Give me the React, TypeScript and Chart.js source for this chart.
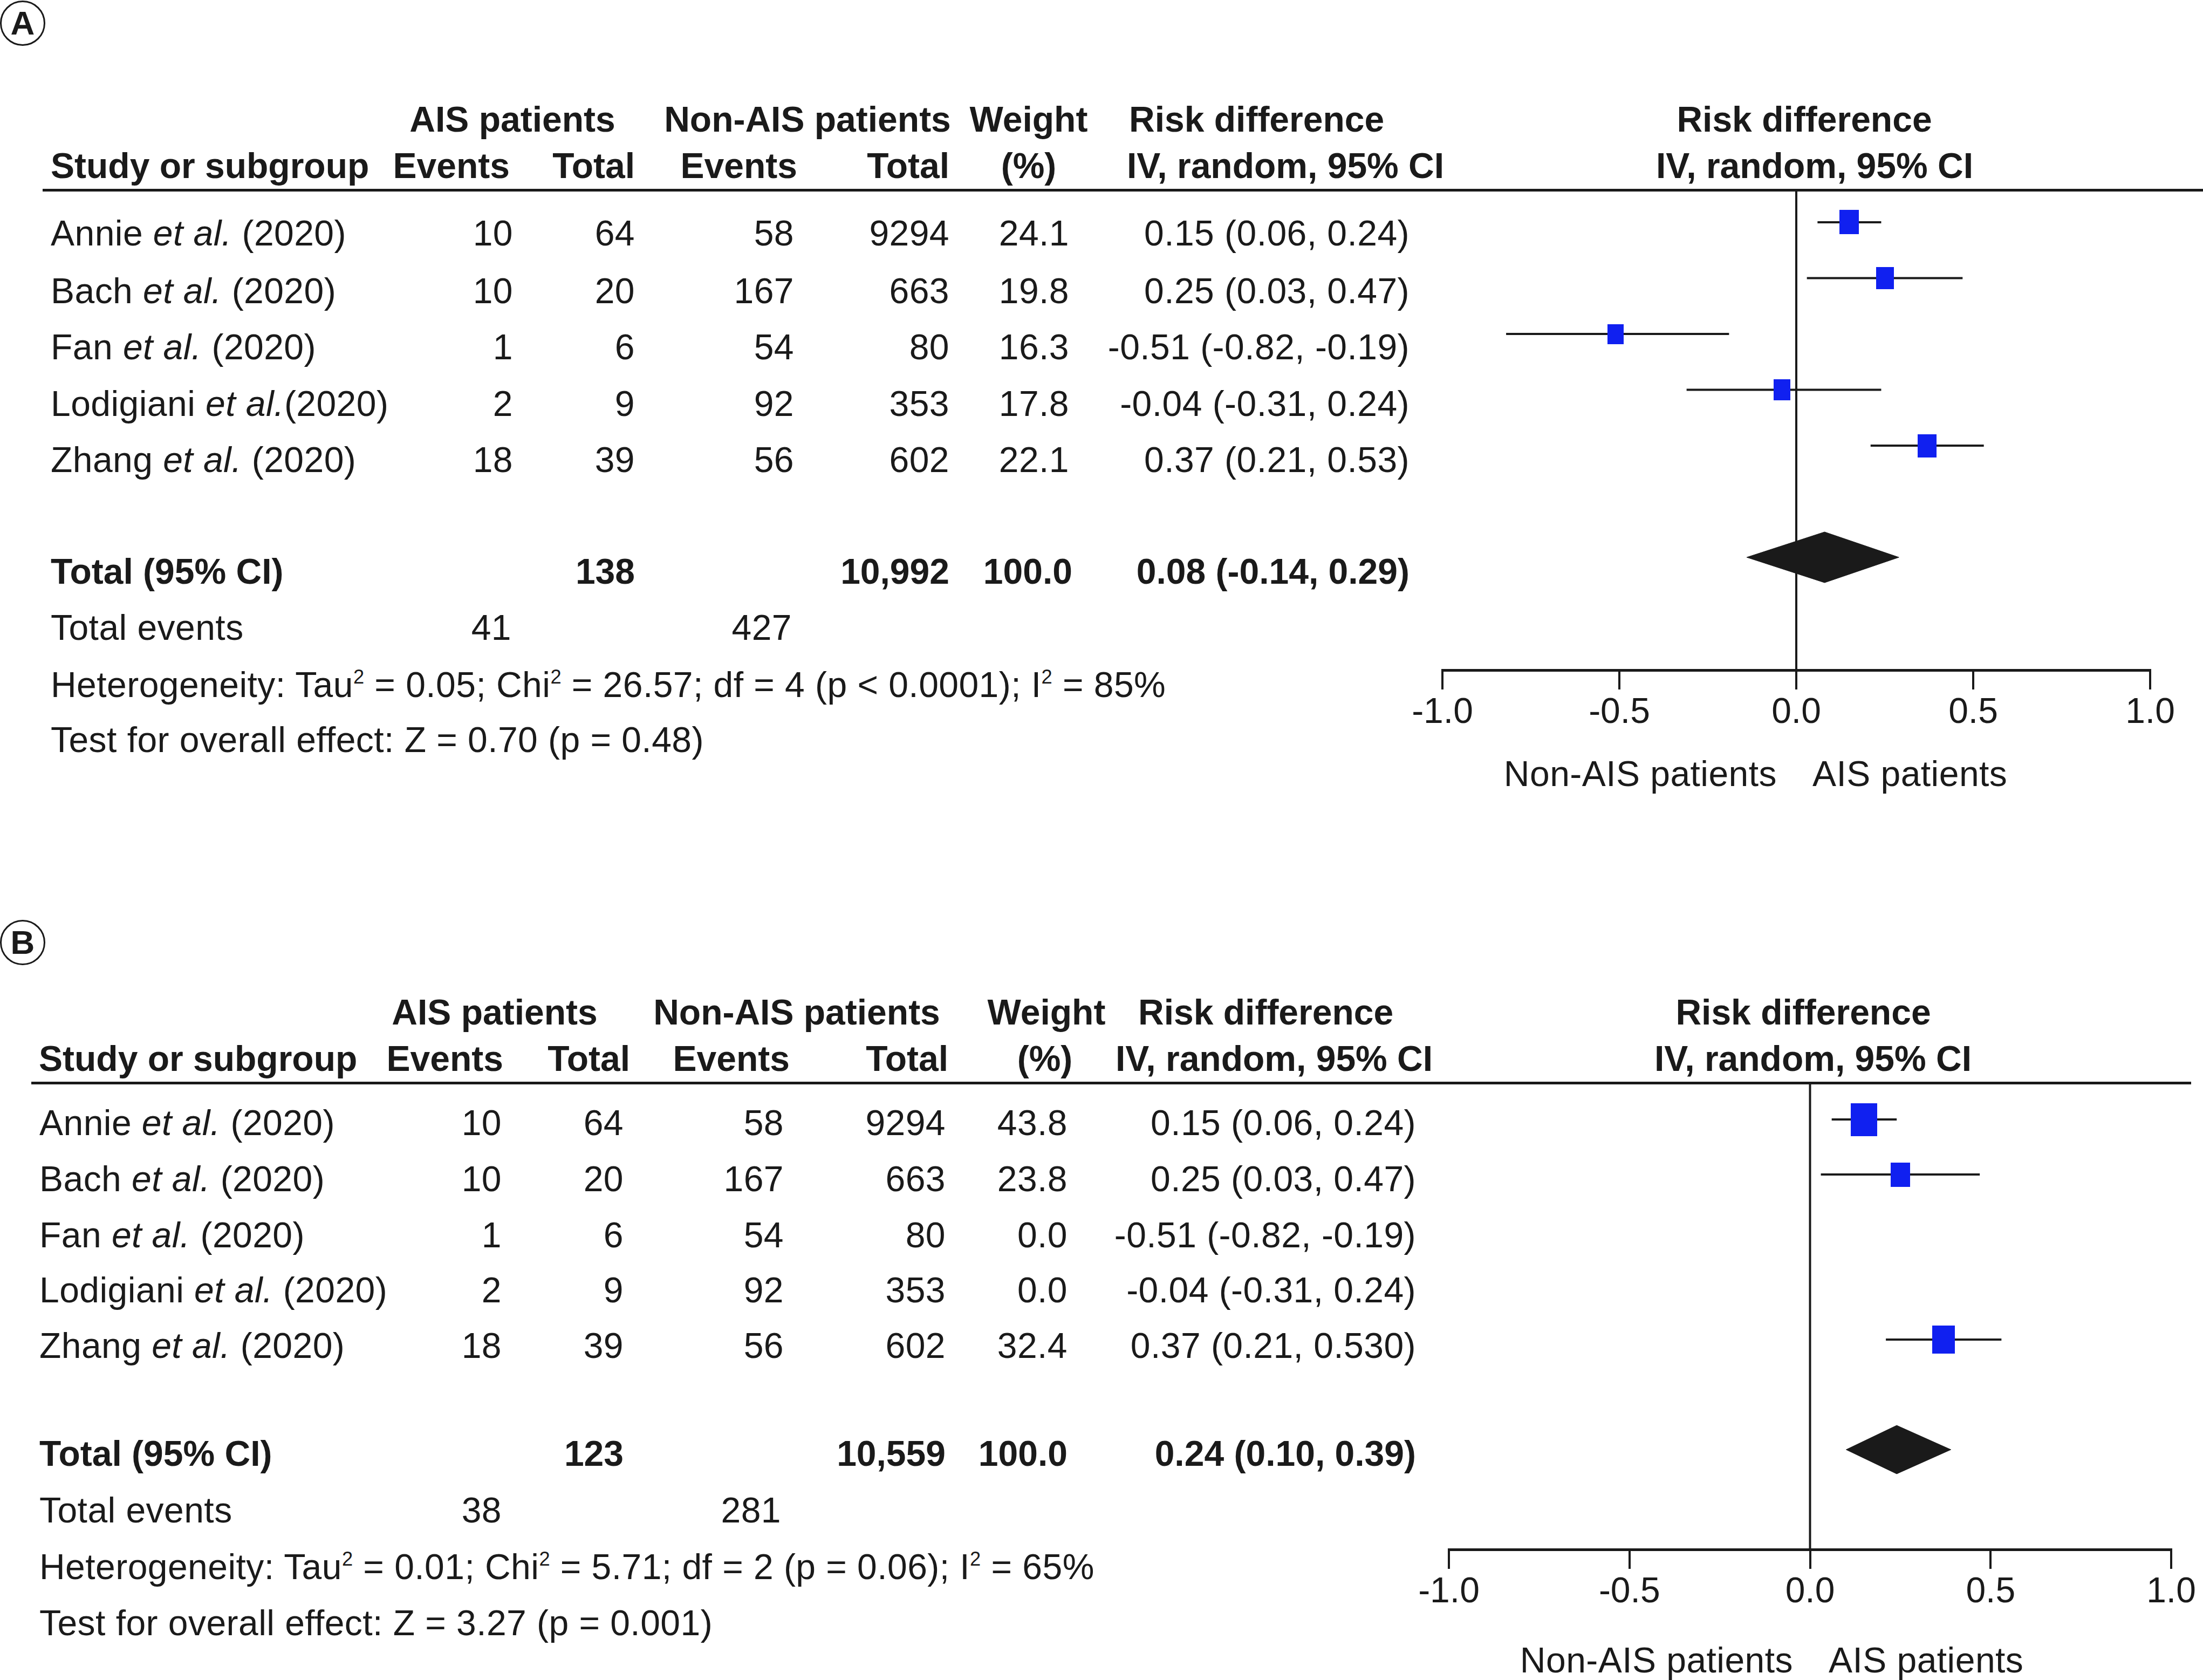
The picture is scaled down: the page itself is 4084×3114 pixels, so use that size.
import React, { useEffect, useRef } from "react";
import { Chart, registerables } from "chart.js";

Chart.register(...registerables);

// ---------------- data ----------------
const studyAuthors = ["Annie", "Bach", "Fan", "Lodigiani", "Zhang"];
const studyYears = ["(2020)", "(2020)", "(2020)", "(2020)", "(2020)"];
const nameSepA = [" ", " ", " ", "", " "];
const nameSepB = [" ", " ", " ", " ", " "];
const aisEvents = [10, 10, 1, 2, 18];
const aisTotals = [64, 20, 6, 9, 39];
const nonAisEvents = [58, 167, 54, 92, 56];
const nonAisTotals = [9294, 663, 80, 353, 602];
const riskDiff = [0.15, 0.25, -0.51, -0.04, 0.37];
const ciLower = [0.06, 0.03, -0.82, -0.31, 0.21];
const ciUpper = [0.24, 0.47, -0.19, 0.24, 0.53];
const weightsA = [24.1, 19.8, 16.3, 17.8, 22.1];
const weightsB = [43.8, 23.8, 0.0, 0.0, 32.4];
const ciLabelsA = ["0.15 (0.06, 0.24)", "0.25 (0.03, 0.47)", "-0.51 (-0.82, -0.19)", "-0.04 (-0.31, 0.24)", "0.37 (0.21, 0.53)"];
const ciLabelsB = ["0.15 (0.06, 0.24)", "0.25 (0.03, 0.47)", "-0.51 (-0.82, -0.19)", "-0.04 (-0.31, 0.24)", "0.37 (0.21, 0.530)"];
const pooledA = [0.08, -0.14, 0.29]; // estimate, lower, upper
const pooledB = [0.24, 0.1, 0.39];
const pooledLabelA = "0.08 (-0.14, 0.29)";
const pooledLabelB = "0.24 (0.10, 0.39)";
const totalsA = ["138", "10,992", "100.0"];
const totalsB = ["123", "10,559", "100.0"];
const totalEventsA = [41, 427];
const totalEventsB = [38, 281];
const heterogeneityA = ["0.05", "26.57", "4", "p < 0.0001", "85%"];
const heterogeneityB = ["0.01", "5.71", "2", "p = 0.06", "65%"];
const overallEffectA = ["0.70", "p = 0.48"];
const overallEffectB = ["3.27", "p = 0.001"];
const xTicks = [-1, -0.5, 0, 0.5, 1];

// ---------------- styles ----------------
const W = 4084;
const H = 3114;
const FONT = "'Liberation Sans', Arial, Helvetica, sans-serif";
const INK = "#1a1a1a";
const BLUE = "#1020f0";
const FS = 66;

function makeBox(w: number, h: number) {
  const c = document.createElement("canvas");
  c.width = Math.round(w);
  c.height = Math.round(h);
  const g = c.getContext("2d")!;
  g.fillStyle = BLUE;
  g.fillRect(0, 0, c.width, c.height);
  return c;
}

function T({ x, y, a = "l", b = false, children }: any) {
  const st: any = {
    position: "absolute",
    top: y - 40,
    height: 80,
    lineHeight: "80px",
    fontSize: FS,
    fontWeight: b ? 700 : 400,
    letterSpacing: b ? "0px" : "0.45px",
    whiteSpace: "nowrap",
  };
  if (a === "l") st.left = x;
  else if (a === "r") st.right = W - x;
  else {
    st.left = x - 1500;
    st.width = 3000;
    st.textAlign = "center";
  }
  return <div style={st}>{children}</div>;
}

const Sup = ({ children }: any) => (
  <sup style={{ fontSize: "0.55em", verticalAlign: "0.7em", lineHeight: 0 }}>{children}</sup>
);

function Forest({ c, weights, pooled }: any) {
  const ref = useRef<HTMLCanvasElement>(null);
  useEffect(() => {
    const rows = riskDiff.map((_, i) => i).filter((i) => weights[i] > 0);
    const totalRow = riskDiff.length + 1;
    const boxes = rows.map((i) => {
      const h = 9.2 * Math.sqrt(weights[i]);
      return makeBox(0.8 * h, h);
    });
    const datasets: any[] = [
      {
        label: "no effect",
        data: [
          { x: 0, y: c.yMin },
          { x: 0, y: c.yMax },
        ],
        showLine: true,
        borderColor: INK,
        borderWidth: 4,
        pointRadius: 0,
        order: 3,
      },
      ...rows.map((i) => ({
        label: studyAuthors[i] + " CI",
        data: [
          { x: ciLower[i], y: i },
          { x: ciUpper[i], y: i },
        ],
        showLine: true,
        borderColor: INK,
        borderWidth: 4,
        pointRadius: 0,
        order: 2,
      })),
      {
        label: "estimates",
        data: rows.map((i) => ({ x: riskDiff[i], y: i })),
        showLine: false,
        pointStyle: (ctx: any) => boxes[ctx.dataIndex],
        pointRadius: 4,
        backgroundColor: BLUE,
        borderWidth: 0,
        order: 0,
      },
      {
        label: "pooled",
        data: [
          { x: pooled[1], y: totalRow },
          { x: pooled[0], y: totalRow - c.dh },
          { x: pooled[2], y: totalRow },
          { x: pooled[0], y: totalRow + c.dh },
          { x: pooled[1], y: totalRow },
        ],
        showLine: true,
        fill: "shape",
        backgroundColor: INK,
        borderColor: INK,
        borderWidth: 1,
        pointRadius: 0,
        tension: 0,
        order: 1,
      },
    ];
    const chart = new Chart(ref.current!, {
      type: "scatter",
      data: { datasets },
      options: {
        responsive: false,
        maintainAspectRatio: false,
        animation: false,
        layout: { padding: { left: c.padL, right: c.padR, top: c.padT, bottom: 0 } },
        plugins: { legend: { display: false }, tooltip: { enabled: false } },
        scales: {
          x: {
            type: "linear",
            position: "bottom",
            min: -1,
            max: 1,
            afterBuildTicks: (s: any) => {
              s.ticks = xTicks.map((v) => ({ value: v }));
            },
            ticks: {
              autoSkip: false,
              maxRotation: 0,
              padding: 4,
              color: INK,
              font: { family: FONT, size: FS },
              callback: (v: any) => Number(v).toFixed(1),
            },
            grid: {
              display: true,
              drawOnChartArea: false,
              drawTicks: true,
              tickLength: 36,
              tickWidth: 4,
              lineWidth: 4,
              color: INK,
            },
            border: { display: true, width: 5, color: INK },
            afterFit: (s: any) => {
              s.height = 130;
            },
          },
          y: { type: "linear", display: false, reverse: true, min: c.yMin, max: c.yMax },
        },
      } as any,
    });
    return () => chart.destroy();
  }, []);
  return (
    <canvas
      ref={ref}
      width={c.width}
      height={c.height}
      style={{ position: "absolute", left: c.left, top: c.top, width: c.width, height: c.height }}
    />
  );
}

const layoutA = {
  letter: "A", cx: 42, cy: 43,
  hdr1: 221, hdr2: 307, lineY: 352, lineX0: 79, lineX1: 4084,
  nameX: 94, aisEvX: 951, aisTotX: 1177, nonEvX: 1472, nonTotX: 1760, wX: 1982, rdX: 2613,
  h1: { ais: 950, non: 1497, weight: 1907, rd: 2093, forest: 3345 },
  h2: { study: 94, aisEv: 945, aisTot: 1177, nonEv: 1478, nonTot: 1760, pct: 1907, ivL: 2089, forest: 3364 },
  rowsY: [432, 539, 643, 748, 852], totalY: 1059, eventsY: 1163, hetY: 1269, testY: 1371,
  totW: 1988, evAis: 948, evNon: 1468,
  sideY: 1434, sideNonR: 3294, sideAisL: 3360,
  chart: { left: 2574, top: 300, width: 1510, height: 1072, padL: 100, padR: 98, padT: 52, yMin: -0.5797, yMax: 8.0193, dh: 0.454 },
};

const layoutB = {
  letter: "B", cx: 42, cy: 1747,
  hdr1: 1876, hdr2: 1962, lineY: 2007, lineX0: 58, lineX1: 4062,
  nameX: 73, aisEvX: 930, aisTotX: 1156, nonEvX: 1453, nonTotX: 1753, wX: 1979, rdX: 2625,
  h1: { ais: 917, non: 1477, weight: 1940, rd: 2110, forest: 3343 },
  h2: { study: 72, aisEv: 933, aisTot: 1168, nonEv: 1464, nonTot: 1758, pct: 1937, ivL: 2068, forest: 3361 },
  rowsY: [2081, 2185, 2289, 2391, 2494], totalY: 2694, eventsY: 2799, hetY: 2904, testY: 3008,
  totW: 1979, evAis: 930, evNon: 1448,
  sideY: 3077, sideNonR: 3324, sideAisL: 3390,
  chart: { left: 2586, top: 1960, width: 1498, height: 1042, padL: 100, padR: 59, padT: 47, yMin: -0.6667, yMax: 7.8137, dh: 0.44 },
};

function Panel({ L, weights, nameSep, ciLabels, pooled, pooledLabel, totals, totalEvents, het, effect }: any) {
  return (
    <>
      <Forest c={L.chart} weights={weights} pooled={pooled} />
      <div
        style={{
          position: "absolute",
          left: L.cx - 42,
          top: L.cy - 42,
          width: 78,
          height: 78,
          border: "3px solid " + INK,
          borderRadius: "50%",
          display: "flex",
          alignItems: "center",
          justifyContent: "center",
          fontSize: 62,
          fontWeight: 700,
          lineHeight: 1,
        }}
      >
        {L.letter}
      </div>
      <div
        style={{
          position: "absolute",
          left: L.lineX0,
          top: L.lineY - 2.5,
          width: L.lineX1 - L.lineX0,
          height: 5,
          background: INK,
        }}
      />
      {/* header row 1 */}
      <T x={L.h1.ais} y={L.hdr1} a="c" b>AIS patients</T>
      <T x={L.h1.non} y={L.hdr1} a="c" b>Non-AIS patients</T>
      <T x={L.h1.weight} y={L.hdr1} a="c" b>Weight</T>
      <T x={L.h1.rd} y={L.hdr1} b>Risk difference</T>
      <T x={L.h1.forest} y={L.hdr1} a="c" b>Risk difference</T>
      {/* header row 2 */}
      <T x={L.h2.study} y={L.hdr2} b>Study or subgroup</T>
      <T x={L.h2.aisEv} y={L.hdr2} a="r" b>Events</T>
      <T x={L.h2.aisTot} y={L.hdr2} a="r" b>Total</T>
      <T x={L.h2.nonEv} y={L.hdr2} a="r" b>Events</T>
      <T x={L.h2.nonTot} y={L.hdr2} a="r" b>Total</T>
      <T x={L.h2.pct} y={L.hdr2} a="c" b>(%)</T>
      <T x={L.h2.ivL} y={L.hdr2} b>IV, random, 95% CI</T>
      <T x={L.h2.forest} y={L.hdr2} a="c" b>IV, random, 95% CI</T>
      {/* study rows */}
      {studyAuthors.map((a, i) => (
        <React.Fragment key={i}>
          <T x={L.nameX} y={L.rowsY[i]}>
            {a} <i>et al.</i>
            {nameSep[i]}
            {studyYears[i]}
          </T>
          <T x={L.aisEvX} y={L.rowsY[i]} a="r">{aisEvents[i]}</T>
          <T x={L.aisTotX} y={L.rowsY[i]} a="r">{aisTotals[i]}</T>
          <T x={L.nonEvX} y={L.rowsY[i]} a="r">{nonAisEvents[i]}</T>
          <T x={L.nonTotX} y={L.rowsY[i]} a="r">{nonAisTotals[i]}</T>
          <T x={L.wX} y={L.rowsY[i]} a="r">{weights[i].toFixed(1)}</T>
          <T x={L.rdX} y={L.rowsY[i]} a="r">{ciLabels[i]}</T>
        </React.Fragment>
      ))}
      {/* total */}
      <T x={L.nameX} y={L.totalY} b>Total (95% CI)</T>
      <T x={L.aisTotX} y={L.totalY} a="r" b>{totals[0]}</T>
      <T x={L.nonTotX} y={L.totalY} a="r" b>{totals[1]}</T>
      <T x={L.totW} y={L.totalY} a="r" b>{totals[2]}</T>
      <T x={L.rdX} y={L.totalY} a="r" b>{pooledLabel}</T>
      <T x={L.nameX} y={L.eventsY}>Total events</T>
      <T x={L.evAis} y={L.eventsY} a="r">{totalEvents[0]}</T>
      <T x={L.evNon} y={L.eventsY} a="r">{totalEvents[1]}</T>
      <T x={L.nameX} y={L.hetY}>
        Heterogeneity: Tau<Sup>2</Sup> = {het[0]}; Chi<Sup>2</Sup> = {het[1]}; df = {het[2]} ({het[3]}); I<Sup>2</Sup> = {het[4]}
      </T>
      <T x={L.nameX} y={L.testY}>
        Test for overall effect: Z = {effect[0]} ({effect[1]})
      </T>
      {/* axis side labels */}
      <T x={L.sideNonR} y={L.sideY} a="r">Non-AIS patients</T>
      <T x={L.sideAisL} y={L.sideY}>AIS patients</T>
    </>
  );
}

export default function App() {
  return (
    <div
      style={{
        position: "absolute",
        left: 0,
        top: 0,
        width: W,
        height: H,
        overflow: "hidden",
        background: "#ffffff",
        fontFamily: FONT,
        color: INK,
      }}
    >
      <Panel
        L={layoutA}
        weights={weightsA}
        nameSep={nameSepA}
        ciLabels={ciLabelsA}
        pooled={pooledA}
        pooledLabel={pooledLabelA}
        totals={totalsA}
        totalEvents={totalEventsA}
        het={heterogeneityA}
        effect={overallEffectA}
      />
      <Panel
        L={layoutB}
        weights={weightsB}
        nameSep={nameSepB}
        ciLabels={ciLabelsB}
        pooled={pooledB}
        pooledLabel={pooledLabelB}
        totals={totalsB}
        totalEvents={totalEventsB}
        het={heterogeneityB}
        effect={overallEffectB}
      />
    </div>
  );
}
